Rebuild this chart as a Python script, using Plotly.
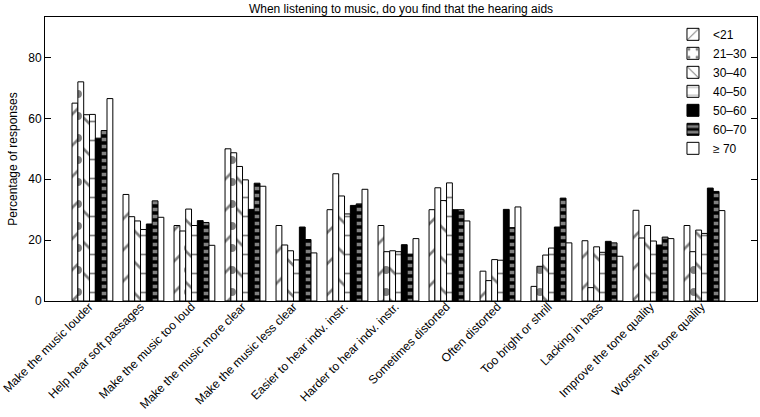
import plotly.graph_objects as go

categories = [
    "Make the music louder", "Help hear soft passages", "Make the music too loud",
    "Make the music more clear", "Make the music less clear", "Easier to hear indv. instr.",
    "Harder to hear indv. instr.", "Sometimes distorted", "Often distorted",
    "Too bright or shrill", "Lacking in bass", "Improve the tone quality",
    "Worsen the tone quality",
]
age_lt21 = [65, 35, 24.8, 50, 24.8, 30, 24.8, 30, 9.8, 4.8, 19.8, 29.8, 24.8]
age_21_30 = [72, 27.7, 23, 48.7, 18.4, 41.8, 16.2, 37.2, 6.7, 11.4, 4.4, 20.7, 16.2]
age_30_40 = [61.2, 26.3, 30.2, 44.2, 16.5, 34.5, 16.5, 33, 13.6, 15.1, 17.8, 24.8, 23.3]
age_40_50 = [61.3, 23.5, 24.8, 39.8, 13.5, 28.6, 16.2, 38.8, 13.4, 17.4, 16, 19.7, 22.2]
age_50_60 = [53.5, 25.3, 26.4, 30.1, 24.3, 31.4, 18.5, 30, 30.1, 24.3, 19.6, 18.4, 37.1]
age_60_70 = [56, 32.9, 25.8, 38.7, 20.2, 31.9, 15.4, 30, 24.1, 33.8, 19.1, 21, 36]
age_ge70 = [66.5, 27.5, 18.3, 37.7, 15.8, 36.7, 20.5, 26.3, 30.9, 19.1, 14.7, 20.5, 29.7]

series_names = ["<21", "21\u201330", "30\u201340", "40\u201350", "50\u201360", "60\u201370", "\u2265 70"]
series_values = [age_lt21, age_21_30, age_30_40, age_40_50, age_50_60, age_60_70, age_ge70]

patterns = [
    dict(shape="/", fgcolor="black", bgcolor="white", size=22, solidity=0.12),
    dict(shape=".", fgcolor="black", bgcolor="white", size=22, solidity=0.1),
    dict(shape="\\", fgcolor="black", bgcolor="white", size=22, solidity=0.12),
    dict(shape="-", fgcolor="black", bgcolor="white", size=19, solidity=0.09),
    dict(shape="", fgcolor="black", bgcolor="black"),
    dict(shape="-", fgcolor="white", bgcolor="black", size=7, solidity=0.5),
    dict(shape="", fgcolor="white", bgcolor="white"),
]
fills = ["white", "white", "white", "white", "black", "black", "white"]

FONT = "Liberation Sans, Arial, sans-serif"

fig = go.Figure()
for name, vals, pat, fc in zip(series_names, series_values, patterns, fills):
    fig.add_trace(go.Bar(
        x=categories, y=vals, name=name,
        marker=dict(color=fc, line=dict(color="black", width=1), pattern=pat),
    ))

fig.update_layout(
    width=760, height=417,
    margin=dict(l=45, r=3, t=17, b=116, autoexpand=False),
    paper_bgcolor="white", plot_bgcolor="white",
    barmode="group", bargap=0.2, bargroupgap=0,
    font=dict(family=FONT, size=12, color="black"),
    title=dict(text="When listening to music, do you find that the hearing aids",
               xref="paper", x=0.5, xanchor="center",
               yref="container", y=0.99, yanchor="top",
               font=dict(size=12, family=FONT, color="black")),
    legend=dict(x=0.882, xanchor="left", y=0.99, yanchor="top",
                bgcolor="rgba(0,0,0,0)", font=dict(size=12),
                tracegroupgap=0, itemwidth=30),
    xaxis=dict(range=[-0.93, 13.03], showline=True, linecolor="black", linewidth=1,
               mirror=True, ticks="", tickangle=-45, showgrid=False, automargin=False,
               ticklabelstandoff=-7, ticklabelshift=-3, tickfont=dict(size=12)),
    yaxis=dict(range=[0, 93.3], showline=True, linecolor="black", linewidth=1,
               mirror="ticks", ticks="inside", ticklen=6, tickcolor="black",
               tickvals=[0, 20, 40, 60, 80], showgrid=False, zeroline=False,
               automargin=False,
               title=dict(text="Percentage of responses", font=dict(size=12), standoff=8),
               tickfont=dict(size=12)),
)

fig.write_html("out.html", config={"displayModeBar": False},
               post_script="document.body.style.margin='0';")
